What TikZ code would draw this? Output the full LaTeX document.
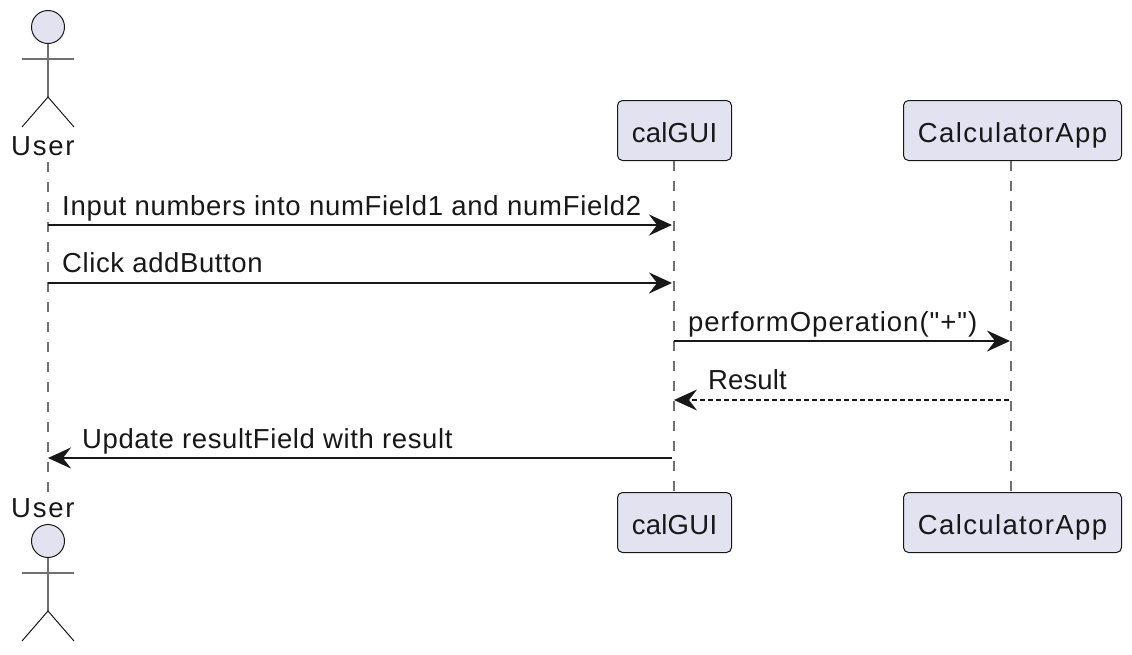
\documentclass[tikz,border=0pt]{standalone}
\usepackage{fontspec}
\newfontfamily\labA{Liberation Sans}[LetterSpace=2.2]
\newfontfamily\labB{Liberation Sans}[LetterSpace=5]
\newfontfamily\labC{Liberation Sans}[LetterSpace=1]
\newfontfamily\labD{Liberation Sans}[LetterSpace=6.5]
\newfontfamily\labE{Liberation Sans}[LetterSpace=2.6]
\newfontfamily\labF{Liberation Sans}[LetterSpace=3.6]
\newfontfamily\labG{Liberation Sans}[LetterSpace=0.4]
\usetikzlibrary{arrows.meta}
\definecolor{partfill}{HTML}{E2E2F0}
\definecolor{partline}{HTML}{181818}
\definecolor{lifeline}{HTML}{707070}
\tikzset{
  x=1pt,y=-1pt,
  txt/.style={font=\labA\fontsize{27.5}{30}\selectfont,text=partline,inner sep=0pt,anchor=base west},
  usertxt/.style={txt,font=\labD\fontsize{27.5}{30}\selectfont},
  partbox/.style={draw=partline,fill=partfill,line width=1pt,rounded corners=5pt,anchor=north west,inner sep=0pt,minimum height=60pt,text height=23pt,text depth=0pt,text=partline},
  guibox/.style={partbox,minimum width=114pt,font=\labC\fontsize{27.5}{30}\selectfont},
  appbox/.style={partbox,minimum width=218pt,font=\labB\fontsize{27.5}{30}\selectfont},
  lifel/.style={draw=lifeline,line width=2pt,dash pattern=on 10pt off 10pt},
  msg/.style={draw=partline,line width=2.2pt,-{Stealth[length=23pt,width=21pt,inset=8pt]}},
  msgd/.style={msg,dash pattern=on 5pt off 3pt},
  limb/.style={draw=partline,line width=1pt},
  torso/.style={draw=lifeline,line width=1.6pt},
  headc/.style={draw=partline,fill=partfill,line width=1pt,circle,minimum size=33pt,inner sep=0pt}
}
\begin{document}
\begin{tikzpicture}
\useasboundingbox (0,0) rectangle (1132,654);
% lifeline ends
\coordinate (ut) at (48,162);
\coordinate (ub) at (48,492);
\node[guibox] (gt) at (617,100) {calGUI};
\node[appbox] (at) at (903,100) {CalculatorApp};
\node[guibox] (gb) at (617,492) {calGUI};
\node[appbox] (ab) at (903,492) {CalculatorApp};
\path[lifel] (ut) -- (ub);
\path[lifel] ([xshift=-1pt]gt.south) -- ([xshift=-1pt]gb.north);
\path[lifel] ([xshift=-2pt]at.south) -- ([xshift=-2pt]ab.north);
% top actor
\node[headc] (h1) at (48,27) {};
\coordinate (n1) at (48,97);
\path[torso] (h1.south) -- (n1);
\coordinate (la1) at (22,59); \coordinate (ra1) at (74,59);
\path[torso] (la1) -- (ra1);
\coordinate (ll1) at (22,127); \coordinate (rl1) at (74,127);
\path[limb] (ll1) -- (n1) -- (rl1);
\node[usertxt] (u1) at (11,155) {User};
% bottom actor
\node[headc] (h2) at (48,541) {};
\coordinate (n2) at (48,611);
\path[torso] (h2.south) -- (n2);
\coordinate (la2) at (22,573); \coordinate (ra2) at (74,573);
\path[torso] (la2) -- (ra2);
\coordinate (ll2) at (22,641); \coordinate (rl2) at (74,641);
\path[limb] (ll2) -- (n2) -- (rl2);
\node[usertxt] (u2) at (11,517) {User};
% messages
\coordinate (m1a) at (48,225); \coordinate (m1b) at (672,225);
\coordinate (m2a) at (48,283); \coordinate (m2b) at (672,283);
\coordinate (m3a) at (674,341); \coordinate (m3b) at (1010,341);
\coordinate (m4a) at (1009,400); \coordinate (m4b) at (674,400);
\coordinate (m5a) at (672,458); \coordinate (m5b) at (48,458);
\path[msg] (m1a) -- (m1b);
\path[msg] (m2a) -- (m2b);
\path[msg] (m3a) -- (m3b);
\path[msgd] (m4a) -- (m4b);
\path[msg] (m5a) -- (m5b);
\node[txt,font=\labE\fontsize{27.5}{30}\selectfont] (t1) at (62,215) {Input numbers into numField1 and numField2};
\node[txt] (t2) at (62,272) {Click addButton};
\node[txt,font=\labF\fontsize{27.5}{30}\selectfont] (t3) at (688,331) {performOperation("+")};
\node[txt,font=\labG\fontsize{27.5}{30}\selectfont] (t4) at (708,389) {Result};
\node[txt] (t5) at (82,448) {Update resultField with result};
\end{tikzpicture}
\end{document}
